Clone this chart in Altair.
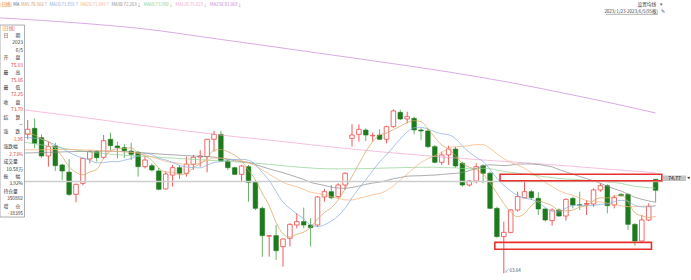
import altair as alt
import pandas as pd

FONT = "Noto Sans CJK SC"

# ---------------- candles (index 3..94; 0..2 sit under the info panel) ----------------
cand_start = 3
opens = [80.48, 81.21, 80.08, 77.86, 79.07, 76.77, 75.90, 73.21, 74.54, 77.49,
         78.38, 77.69, 79.88, 79.07, 78.87, 78.46, 78.30, 76.56, 76.68, 76.04,
         73.86, 75.55, 76.44, 75.76, 76.85, 77.73, 77.78, 79.88, 80.48, 77.25,
         76.44, 75.63, 76.56, 74.66, 71.51, 68.13, 68.20, 66.87, 67.88, 69.49,
         69.90, 69.49, 69.49, 72.89, 73.53, 72.93, 74.34, 80.00, 80.48, 81.00,
         80.30, 80.40, 79.88, 81.41, 83.15, 82.34, 82.42, 81.01, 80.89, 78.99,
         77.09, 77.98, 78.70, 76.97, 74.34, 74.83, 76.68, 75.76, 71.51, 68.08,
         68.60, 71.31, 72.80, 73.53, 72.72, 71.43, 70.02, 71.31, 70.58, 72.72,
         71.95, 72.00, 72.04, 73.74, 74.26, 71.92, 73.21, 73.21, 69.57, 67.55,
         70.10, 75.03]
highs = [82.22, 82.42, 80.48, 79.59, 79.47, 76.90, 77.50, 74.50, 77.60, 78.58,
         78.58, 80.40, 80.68, 79.59, 79.30, 79.47, 78.46, 77.78, 76.97, 76.40,
         75.96, 76.77, 76.77, 77.78, 77.98, 78.58, 79.90, 80.89, 80.89, 77.37,
         76.56, 76.77, 76.77, 74.95, 71.71, 68.28, 69.49, 67.88, 69.70, 70.91,
         71.60, 70.30, 73.00, 73.86, 74.34, 74.54, 75.88, 81.70, 81.69, 81.20,
         80.70, 81.09, 81.53, 83.51, 83.43, 83.23, 82.62, 81.21, 81.21, 79.19,
         78.38, 79.11, 78.99, 77.17, 74.95, 76.97, 76.85, 75.96, 71.71, 69.90,
         71.43, 73.53, 74.75, 73.74, 73.45, 71.51, 71.51, 71.51, 72.72, 72.93,
         73.53, 72.52, 73.94, 74.54, 74.42, 73.13, 73.33, 73.33, 69.70, 70.70,
         72.12, 75.06]
lows = [79.88, 78.79, 77.65, 76.56, 76.04, 74.95, 73.00, 72.24, 74.30, 76.97,
        77.17, 77.50, 78.58, 77.57, 77.60, 77.37, 75.35, 76.36, 75.96, 73.70,
        73.80, 74.14, 75.07, 75.35, 76.16, 76.56, 75.88, 78.38, 77.17, 76.16,
        75.55, 74.83, 72.32, 71.31, 65.65, 65.65, 65.25, 64.44, 66.87, 69.09,
        69.09, 66.87, 69.29, 72.32, 72.64, 72.72, 73.74, 79.00, 79.59, 79.67,
        79.60, 79.80, 79.39, 81.29, 82.22, 81.81, 80.48, 79.80, 78.79, 76.97,
        76.77, 76.77, 76.44, 74.14, 74.14, 74.54, 74.54, 71.43, 67.96, 63.64,
        68.48, 71.11, 72.72, 72.52, 70.70, 69.90, 69.41, 70.50, 70.02, 71.51,
        71.31, 70.70, 71.71, 73.53, 70.91, 71.51, 72.93, 68.89, 66.99, 67.47,
        69.98, 72.25]
closes = [81.09, 79.39, 77.86, 78.99, 76.68, 76.04, 73.20, 74.42, 77.57, 78.38,
          77.65, 79.71, 79.11, 78.87, 78.50, 78.06, 76.56, 77.37, 76.16, 73.82,
          75.67, 76.44, 75.76, 76.85, 77.70, 77.86, 79.88, 80.48, 77.25, 76.44,
          75.63, 76.64, 74.66, 71.51, 68.20, 68.20, 66.38, 67.80, 69.57, 69.90,
          69.49, 69.17, 72.89, 73.53, 72.80, 74.34, 75.76, 80.40, 81.09, 80.40,
          80.35, 79.88, 81.41, 83.31, 82.34, 82.62, 81.01, 80.89, 78.99, 77.09,
          77.98, 78.70, 76.64, 74.34, 74.83, 76.56, 75.76, 71.51, 68.08, 68.60,
          71.31, 72.93, 73.53, 72.80, 71.43, 70.10, 71.31, 70.58, 72.60, 71.92,
          71.90, 72.10, 73.74, 74.26, 71.84, 72.80, 73.05, 69.57, 67.55, 70.10,
          71.74, 73.70]

# ---------------- moving averages (index, value) ----------------
ma5_start = 2
ma5_vals = [80.7, 80.6, 80.4, 79.9, 79.6, 78.80, 77.79, 76.55, 75.87, 75.58,
            75.92, 76.24, 77.55, 78.48, 78.74, 78.77, 78.85, 78.22, 77.87, 77.33,
            76.39, 75.92, 75.89, 75.57, 75.71, 76.48, 76.92, 77.61, 78.55, 78.63,
            78.38, 77.94, 77.29, 76.12, 74.98, 73.33, 71.84, 69.79, 68.42, 68.03,
            68.37, 68.63, 69.19, 70.20, 71.00, 71.58, 72.55, 73.86, 75.37, 76.88,
            78.40, 79.60, 80.42, 80.63, 81.07, 81.46, 81.91, 82.14, 82.03, 81.17,
            80.12, 79.19, 78.73, 77.88, 76.95, 76.50, 76.21, 75.63, 74.60, 73.35,
            72.10, 71.05, 70.49, 70.89, 71.83, 72.40, 72.16, 71.83, 71.24, 71.20,
            71.30, 71.66, 71.82, 72.45, 72.78, 72.77, 72.95, 73.14, 72.30, 70.96,
            70.61, 70.40, 70.53]
ma10_start = 2
ma10_vals = [80.1, 80.1, 80.0, 79.9, 79.6, 79.2, 78.8, 78.3, 77.9, 77.6,
             77.36, 77.02, 77.05, 77.18, 77.16, 77.35, 77.55, 77.88, 78.18, 78.04,
             77.58, 77.38, 77.06, 76.72, 76.52, 76.44, 76.42, 76.75, 77.06, 77.17,
             77.43, 77.43, 77.45, 77.34, 76.81, 75.86, 74.89, 73.54, 72.27, 71.50,
             70.85, 70.24, 69.49, 69.31, 69.51, 69.97, 70.59, 71.53, 72.79, 73.94,
             74.99, 76.07, 77.14, 78.00, 78.97, 79.93, 80.76, 81.28, 81.33, 81.12,
             80.79, 80.55, 80.43, 79.96, 79.06, 78.31, 77.70, 77.18, 76.24, 75.15,
             74.30, 73.63, 73.06, 72.75, 72.59, 72.25, 71.61, 71.16, 71.07, 71.52,
             71.85, 71.91, 71.83, 71.85, 71.99, 72.04, 72.31, 72.48, 72.38, 71.87,
             71.69, 71.68, 71.84]
ma20_idx = [2, 5, 8, 11, 14, 17, 19, 20, 21] + list(range(22, 95))
ma20_vals = [78.6, 78.6, 78.65, 78.6, 78.5, 78.35, 78.2, 78.0, 77.75,
             77.47, 77.20, 77.05, 76.95, 76.84, 76.89, 76.98, 77.32, 77.62, 77.60,
             77.51, 77.41, 77.25, 77.03, 76.66, 76.15, 75.65, 75.15, 74.67, 74.34,
             74.14, 73.83, 73.47, 73.33, 73.16, 72.91, 72.74, 72.53, 72.53, 72.72,
             72.92, 73.15, 73.32, 73.65, 74.24, 74.95, 75.67, 76.40, 77.06, 77.53,
             77.89, 78.31, 78.79, 78.98, 79.02, 79.12, 79.23, 79.23, 78.79, 78.13,
             77.54, 77.09, 76.75, 76.35, 75.83, 75.28, 74.65, 74.17, 73.65, 73.33,
             73.08, 72.77, 72.44, 72.30, 72.29, 72.14, 71.96, 71.82, 71.72, 71.70,
             71.77, 71.79, 71.83]
ma30_idx = [2, 6, 10, 14, 18, 22, 26, 29, 30, 31] + list(range(32, 95))
ma30_vals = [78.2, 78.3, 78.4, 78.45, 78.35, 78.1, 77.9, 77.78, 77.72, 77.6,
             77.46, 77.28, 77.19, 77.08, 76.83, 76.55, 76.29, 76.06, 75.84, 75.57,
             75.29, 75.02, 74.66, 74.46, 74.28, 74.09, 73.97, 73.94, 74.04, 74.20,
             74.42, 74.58, 74.69, 74.88, 75.10, 75.25, 75.41, 75.45, 75.46, 75.52,
             75.54, 75.62, 75.69, 75.75, 75.85, 76.07, 76.35, 76.66, 76.79, 76.74,
             76.69, 76.75, 76.88, 76.90, 76.88, 76.83, 76.69, 76.54, 76.21, 75.93,
             75.65, 75.37, 75.11, 74.85, 74.55, 74.20, 73.87, 73.61, 73.23, 72.85,
             72.61, 72.41, 72.24]
ma60_idx = [2, 5, 8, 11, 14, 17, 20, 23, 26, 29, 32, 35, 38, 41, 44, 47, 50, 53, 56, 59] + list(range(62, 95))
ma60_vals = [79.6, 79.2, 78.8, 78.45, 78.15, 77.95, 77.8, 77.65, 77.5, 77.35,
             77.2, 77.05, 76.85, 76.6, 76.4, 76.3, 76.3, 76.35, 76.42, 76.48,
             76.50, 76.45, 76.44, 76.42, 76.34, 76.31, 76.32, 76.36, 76.31, 76.15,
             75.99, 75.88, 75.77, 75.68, 75.58, 75.46, 75.33, 75.24, 75.13, 75.07,
             75.03, 74.97, 74.90, 74.87, 74.82, 74.73, 74.64, 74.53, 74.35, 74.18,
             74.08, 74.01, 73.96]
ma120_idx = [2, 10, 17, 24, 32, 40, 48, 55, 62, 69, 76, 82, 88, 94]
ma120_vals = [83.5, 82.65, 81.85, 81.09, 80.3, 79.6, 78.86, 78.3, 77.8, 77.37, 76.98, 76.6, 76.2, 75.83]
ma250_idx = [-1, 0, 10, 20, 30, 42, 53, 64, 73, 82, 88, 94]
ma250_vals = [94.6, 94.55, 94.0, 93.25, 92.1, 90.7, 89.4, 88.04, 86.75, 85.25, 84.2, 83.07]

ma_names = ["MA5", "MA10", "MA20", "MA30", "MA60", "MA120", "MA250"]
ma_colors = ["#d6a15e", "#86aee0", "#f6b27c", "#8c8c8c", "#93cf93", "#f4a6cf", "#c88ad8"]
legend_labels = ["MA5:70.566↑", "MA10:71.855↑", "MA20:71.841↑", "MA30:72.263↓",
                 "MA60:73.980↓", "MA120:75.829↓", "MA250:83.068↓"]

y_ticks = [94.34, 92.53, 90.73, 88.92, 87.12, 85.31, 83.50, 81.70, 79.89,
           78.09, 76.28, 74.47, 72.67, 70.86, 69.06, 67.25, 65.45, 63.64]
last_price = 74.77

# red highlight boxes: (index from, index to, price low, price high)
box_x1 = [71.45, 70.7]
box_x2 = [94.9, 93.4]
box_lo = [74.86, 66.55]
box_hi = [75.64, 67.39]

panel_rows = ["日\u3000\u2002期", "2023", "6/5", "开\u3000\u2002盘", "75.03", "最\u3000\u2002高", "75.06",
              "最\u3000\u2002低", "72.25", "收\u3000\u2002盘", "73.70", "结\u3000\u2002算", "—",
              "涨\u3000\u2002跌", "1.96", "涨跌幅", "2.73%", "成交量", "10.58万", "振\u3000\u2002幅",
              "3.92%", "持仓量", "350802", "增\u3000\u2002仓", "-18395"]
panel_red = {4, 6, 8, 10, 14, 16}

# ---------------- build ----------------
n = len(opens)
candles = pd.DataFrame({
    "i": list(range(cand_start, cand_start + n)),
    "o": opens, "h": highs, "l": lows, "c": closes,
})
candles["up"] = candles["c"] >= candles["o"]

X = alt.Scale(domain=[-1.0145, 95.07], nice=False, zero=False)
Y = alt.Scale(domain=[62.825, 96.764], nice=False, zero=False)

RED = "#ee5a5a"
GREEN_BODY = "#1d7a1d"
GREEN_WICK = "#6ab46a"

wick = alt.Chart(candles).mark_rule(strokeWidth=1).encode(
    x=alt.X("i:Q", scale=X, axis=None),
    y=alt.Y("l:Q", scale=Y, axis=alt.Axis(
        orient="right", values=y_ticks, format=".2f", title=None,
        labelFontSize=5, labelColor="#7a7a7a", labelFont=FONT, labelPadding=6,
        labelOverlap=False, labelFlush=False, tickSize=3, tickColor="#a8a8a8",
        domainColor="#a8a8a8", grid=True, gridColor="#eeeeee", gridWidth=1)),
    y2="h:Q",
    color=alt.condition("datum.up", alt.value(RED), alt.value(GREEN_WICK)),
)

body_base = alt.Chart(candles).transform_calculate(
    xa="datum.i - 0.33", xb="datum.i + 0.33",
    top="max(datum.o, datum.c)", bot="min(datum.o, datum.c)",
)
body_up = body_base.transform_filter("datum.up").mark_rect(
    fill="#ffffff", stroke=RED, strokeWidth=0.9).encode(
    x=alt.X("xa:Q", scale=X, axis=None), x2="xb:Q",
    y=alt.Y("bot:Q", scale=Y, axis=None), y2="top:Q")
body_dn = body_base.transform_filter("!datum.up").mark_rect(
    fill=GREEN_BODY, stroke=GREEN_BODY, strokeWidth=0.6).encode(
    x=alt.X("xa:Q", scale=X, axis=None), x2="xb:Q",
    y=alt.Y("bot:Q", scale=Y, axis=None), y2="top:Q")

ma_frames = []
for name, ids, vals in [
    ("MA250", ma250_idx, ma250_vals),
    ("MA120", ma120_idx, ma120_vals),
    ("MA60", ma60_idx, ma60_vals),
    ("MA30", ma30_idx, ma30_vals),
    ("MA20", ma20_idx, ma20_vals),
    ("MA10", list(range(ma10_start, ma10_start + len(ma10_vals))), ma10_vals),
    ("MA5", list(range(ma5_start, ma5_start + len(ma5_vals))), ma5_vals),
]:
    ma_frames.append(pd.DataFrame({"i": ids, "v": vals, "ma": name}))
ma_df = pd.concat(ma_frames, ignore_index=True)

ma_lines = alt.Chart(ma_df).mark_line(strokeWidth=0.9, interpolate="monotone", opacity=0.8).encode(
    x=alt.X("i:Q", scale=X, axis=None),
    y=alt.Y("v:Q", scale=Y, axis=None),
    color=alt.Color("ma:N", scale=alt.Scale(domain=ma_names, range=ma_colors), legend=None),
    detail="ma:N",
    order="i:Q",
)

price_line = alt.Chart(pd.DataFrame({"v": [last_price]})).mark_rule(
    color="#cdcdcd", strokeWidth=1.6).encode(y=alt.Y("v:Q", scale=Y, axis=None))

boxes = alt.Chart(pd.DataFrame({"x1": box_x1, "x2": box_x2, "lo": box_lo, "hi": box_hi})).mark_rect(
    fill=None, stroke="#e8312c", strokeWidth=1.6).encode(
    x=alt.X("x1:Q", scale=X, axis=None), x2="x2:Q",
    y=alt.Y("lo:Q", scale=Y, axis=None), y2="hi:Q")

low_i = candles.loc[candles["l"].idxmin(), "i"]
low_v = candles["l"].min()
low_label = alt.Chart(pd.DataFrame({"i": [low_i], "v": [low_v], "t": ["↙" + f"{low_v:.2f}"]})).mark_text(
    font=FONT, fontSize=4.6, color="#555", align="left", baseline="bottom", dx=1, dy=0).encode(
    x=alt.X("i:Q", scale=X, axis=None), y=alt.Y("v:Q", scale=Y, axis=None), text="t:N")


def txt(s, x, y, color="#333333", size=5.0, align="left", baseline="middle", weight="normal"):
    return alt.Chart(pd.DataFrame({"a": [0]})).mark_text(
        text=s, font=FONT, fontSize=size, color=color, align=align,
        baseline=baseline, fontWeight=weight).encode(x=alt.value(x), y=alt.value(y))


def rect(x1, x2, y1, y2, fill, stroke=None, sw=0.0):
    kw = dict(fill=fill)
    if stroke:
        kw.update(stroke=stroke, strokeWidth=sw)
    return alt.Chart(pd.DataFrame({"a": [0]})).mark_rect(**kw).encode(
        x=alt.value(x1), x2=alt.value(x2), y=alt.value(y1), y2=alt.value(y2))


layers = [wick, body_up, body_dn, ma_lines, price_line, boxes, low_label]

# top legend
LEG = 4.3
leg_x = [21, 49.5, 80.5, 111.5, 143.5, 175.5, 210]
layers.append(txt("[日线]", 0.3, 4.5, color="#e8603a", size=LEG))
layers.append(txt("MA", 13.2, 4.5, color="#666666", size=LEG))
for lab, col, xx in zip(legend_labels, ma_colors, leg_x):
    layers.append(txt(lab, xx, 4.5, color=col, size=LEG))

# top right
layers.append(txt("设置均线", 656, 5, color="#444444", align="right", size=4.6))
layers.append(txt("▾", 660, 5, color="#666666", size=4.5))
layers.append(txt("2023/1/23-2023/6/5(95根)", 658, 11.5, color="#444444", align="right", size=4.5))
layers.append(alt.Chart(pd.DataFrame({"a": [0]})).mark_rule(color="#666666", strokeWidth=0.5).encode(
    x=alt.value(606), x2=alt.value(658), y=alt.value(14.3)))
layers.append(txt("✎", 661, 11.5, color="#555555", size=4.5))

# last price tag on the axis
layers.append(rect(663, 686, 175.5, 181, "#c4c4c4"))
layers.append(txt(f"{last_price:.2f}", 674.5, 178.3, color="#222222", size=5.0, align="center"))
layers.append(txt("◂", 687, 178.3, color="#222222", size=4.5))

# info panel
layers.append(rect(0, 24.5, 25, 217, "#ffffff", "#9a9a9a", 0.8))
layers.append(txt("[日线]", 2.5, 29, color="#e8603a", size=4.6))
for k, s in enumerate(panel_rows):
    yy = 36 + 7.42 * k
    is_label = (k in (0, 3, 5, 7, 9, 11, 13, 15, 17, 19, 21, 23))
    col = "#e03a3a" if k in panel_red else "#333333"
    if is_label:
        layers.append(txt(s, 3.5, yy, color=col, size=4.8))
    else:
        layers.append(txt(s, 23, yy, color=col, size=4.8, align="right"))

chart = alt.layer(*layers).properties(
    width=663, height=280,
    autosize=alt.AutoSizeParams(type="none"),
    padding={"left": 0, "right": 28, "top": 0, "bottom": 0},
    background="#ffffff",
).configure_view(stroke=None)

chart.save("out.html", embed_options={"renderer": "svg", "actions": False})
